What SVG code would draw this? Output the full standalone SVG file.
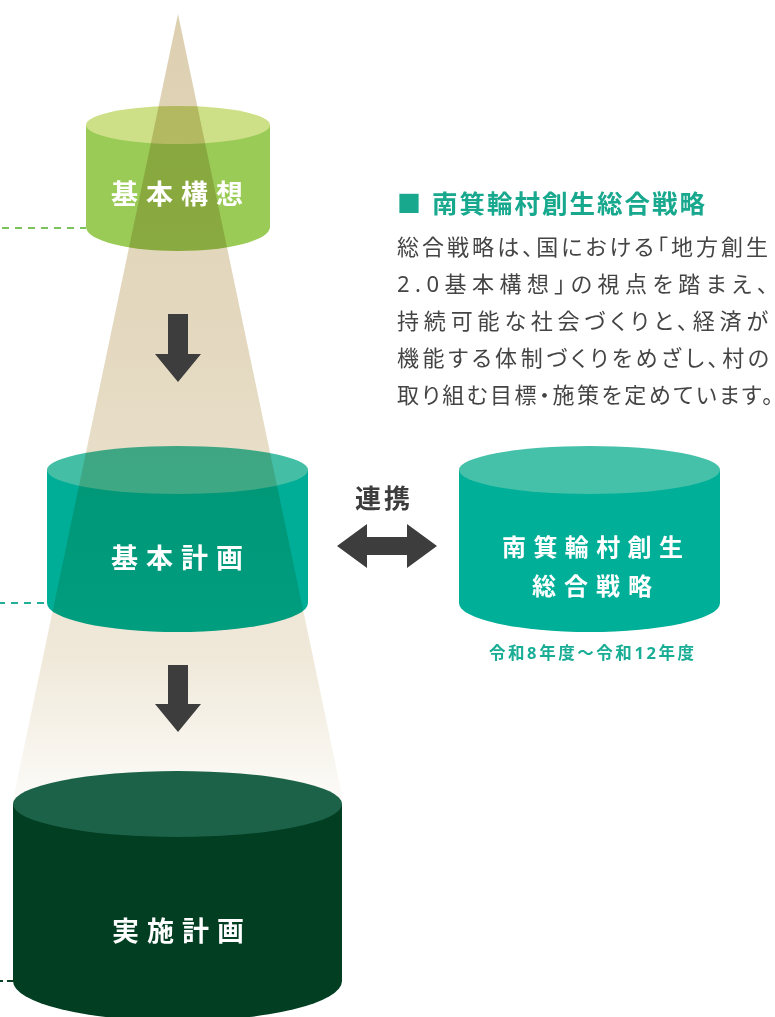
<svg xmlns="http://www.w3.org/2000/svg" xmlns:xlink="http://www.w3.org/1999/xlink" width="775" height="1017" viewBox="0 0 775 1017">
<style>
.lbl{font-family:"Noto Sans","Noto Sans CJK JP",sans-serif;font-weight:700;fill:#ffffff;}
.big{font-size:27px;letter-spacing:8px;}
.mid{font-size:24px;}
.body{font-family:"Noto Sans","Noto Sans CJK JP",sans-serif;font-size:22px;fill:#444444;font-feature-settings:"palt";}
.head{font-family:"Noto Sans","Noto Sans CJK JP",sans-serif;font-weight:700;font-size:25.5px;fill:#17a88e;letter-spacing:2px;}
.arrow{fill:#3d3d3d;}
.beamfx{mix-blend-mode:multiply;}
</style>
<defs>
<linearGradient id="beamGrad" gradientUnits="userSpaceOnUse" x1="0" y1="14" x2="0" y2="800">
<stop offset="0" stop-color="#ddd0b1"/>
<stop offset="0.43" stop-color="#e4d9c0"/>
<stop offset="0.82" stop-color="#f0e9da"/>
<stop offset="1" stop-color="#fcfbf8"/>
</linearGradient>
<polygon id="beamShape" points="178,14 343,800 13,800" fill="url(#beamGrad)"/>
<clipPath id="clipTop">
<path d="M86,125 L86,227 A92,24 0 0 0 270,227 L270,125 Z"/>
<ellipse cx="178" cy="125" rx="92" ry="19"/>
</clipPath>
<clipPath id="clipMid">
<path d="M47,470 L47,603 A130.5,29 0 0 0 308,603 L308,470 Z"/>
<ellipse cx="177.5" cy="470" rx="130.5" ry="24"/>
</clipPath>
</defs>

<g id="beam">
<use xlink:href="#beamShape"/>
</g>

<g id="connectors">
<line x1="0" y1="228" x2="86" y2="228" stroke="#7dc35b" stroke-width="2" stroke-dasharray="7 6" stroke-dashoffset="11"/>
<line x1="0" y1="603" x2="47" y2="603" stroke="#22ae97" stroke-width="2" stroke-dasharray="7 6" stroke-dashoffset="2"/>
<line x1="0" y1="981" x2="14" y2="981" stroke="#0d3f25" stroke-width="2" stroke-dasharray="3 4 7"/>
<polygon class="arrow" points="168,314 188,314 188,354 201,354 178,382 155,354 168,354"/>
<polygon class="arrow" points="168,665 188,665 188,704 201,704 178,732 155,704 168,704"/>
<polygon class="arrow" points="337,546 367,524 367,537 407,537 407,524 437,546 407,568 407,555 367,555 367,568"/>
<text x="355" y="508" style="font-family:'Noto Sans','Noto Sans CJK JP',sans-serif;font-weight:700;font-size:26px;letter-spacing:3px;fill:#3d3d3d">連携</text>
</g>

<g id="node-kihonkoso">
<path d="M86,125 L86,227 A92,24 0 0 0 270,227 L270,125 Z" fill="#9bcb57"/>
<ellipse cx="178" cy="125" rx="92" ry="19" fill="#cde087"/>
<use xlink:href="#beamShape" clip-path="url(#clipTop)" class="beamfx"/>
<text class="lbl big" x="111" y="204">基本構想</text>
</g>

<g id="node-kihonkeikaku">
<path d="M47,470 L47,603 A130.5,29 0 0 0 308,603 L308,470 Z" fill="#00ad96"/>
<ellipse cx="177.5" cy="470" rx="130.5" ry="24" fill="#44bfa6"/>
<use xlink:href="#beamShape" clip-path="url(#clipMid)" class="beamfx"/>
<text class="lbl big" x="111" y="568">基本計画</text>
</g>

<g id="node-senryaku">
<path d="M459,470 L459,603 A130.5,29 0 0 0 720,603 L720,470 Z" fill="#00af98"/>
<ellipse cx="589.5" cy="470" rx="130.5" ry="24" fill="#45c1a9"/>
<text class="lbl mid" x="502" y="556" style="letter-spacing:7.4px">南箕輪村創生</text>
<text class="lbl mid" x="532" y="595" style="letter-spacing:8px">総合戦略</text>
<text x="489" y="659" style="font-family:'Noto Sans','Noto Sans CJK JP',sans-serif;font-weight:700;font-size:16.5px;fill:#19ad95" textLength="205" lengthAdjust="spacing">令和8年度～令和12年度</text>
</g>

<g id="node-jisshikeikaku">
<path d="M13,804 L13,981 A164.5,40 0 0 0 342,981 L342,804 Z" fill="#023f22"/>
<ellipse cx="177.5" cy="804" rx="164.5" ry="33" fill="#1b6249"/>
<text class="lbl big" x="112" y="941">実施計画</text>
</g>

<g id="description">
<text x="397" y="212" style="font-family:'Noto Sans CJK JP',sans-serif;font-size:24px;fill:#17a88e">■</text>
<text class="head" x="432" y="213">南箕輪村創生総合戦略</text>
<text class="body" x="397" y="254.5" textLength="371" lengthAdjust="spacing">総合戦略は、国における「地方創生</text>
<text class="body" x="397" y="291.5" textLength="371" lengthAdjust="spacing">2.0基本構想」の視点を踏まえ、</text>
<text class="body" x="397" y="328.5" textLength="371" lengthAdjust="spacing">持続可能な社会づくりと、経済が</text>
<text class="body" x="397" y="365.5" textLength="372" lengthAdjust="spacing">機能する体制づくりをめざし、村の</text>
<text class="body" x="397" y="402.5" textLength="376" lengthAdjust="spacing">取り組む目標・施策を定めています。</text>
</g>
</svg>
